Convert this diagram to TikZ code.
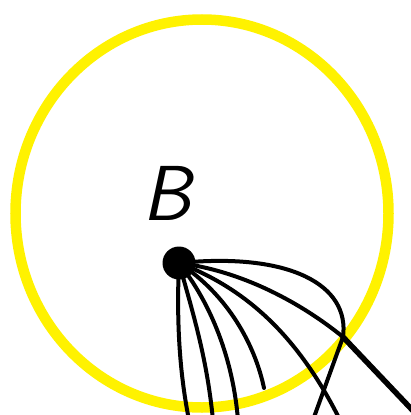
\documentclass[tikz,border=0pt]{standalone}
\tikzset{
  edge/.style={line width=4pt, line cap=round},
  thickedge/.style={line width=5.5pt, line cap=round},
  hl/.style={draw=yellow, line width=10.5pt},
  vertex/.style={circle, fill=black, inner sep=0pt, minimum size=33pt},
}
\begin{document}
\begin{tikzpicture}[x=1pt,y=-1pt]
\useasboundingbox (0,0) rectangle (410,415);
\draw[hl] (202,213.5) ellipse [x radius=186.5, y radius=194];
\node[font=\fontsize{78}{78}\selectfont\sffamily\slshape, inner sep=0pt] (lbl) at (167,193) {B};
\node[vertex] (b) at (179,263) {};
\coordinate (j) at (343,337);
\coordinate (a1) at (189,420);
\coordinate (b1) at (213,420);
\coordinate (c1) at (238,420);
\coordinate (d1) at (264,388);
\coordinate (e1) at (340,420);
\coordinate (r1) at (418,416);
\coordinate (l1) at (313,420);
\draw[edge] (b.center) .. controls (176,330) and (181,380) .. (a1);
\draw[edge] (b.center) .. controls (195,320) and (207,360) .. (b1);
\draw[edge] (b.center) .. controls (212,305) and (233,360) .. (c1);
\draw[edge] (b.center) .. controls (228,295) and (255,345) .. (d1);
\draw[edge] (b.center) .. controls (250,290) and (300,340) .. (e1);
\draw[edge] (b.center) .. controls (250,272) and (310,310) .. (j);
\draw[edge] (b.center) .. controls (290,252) and (350,285) .. (j);
\draw[thickedge] (j) -- (r1);
\draw[edge] (j) -- (l1);
\end{tikzpicture}
\end{document}
